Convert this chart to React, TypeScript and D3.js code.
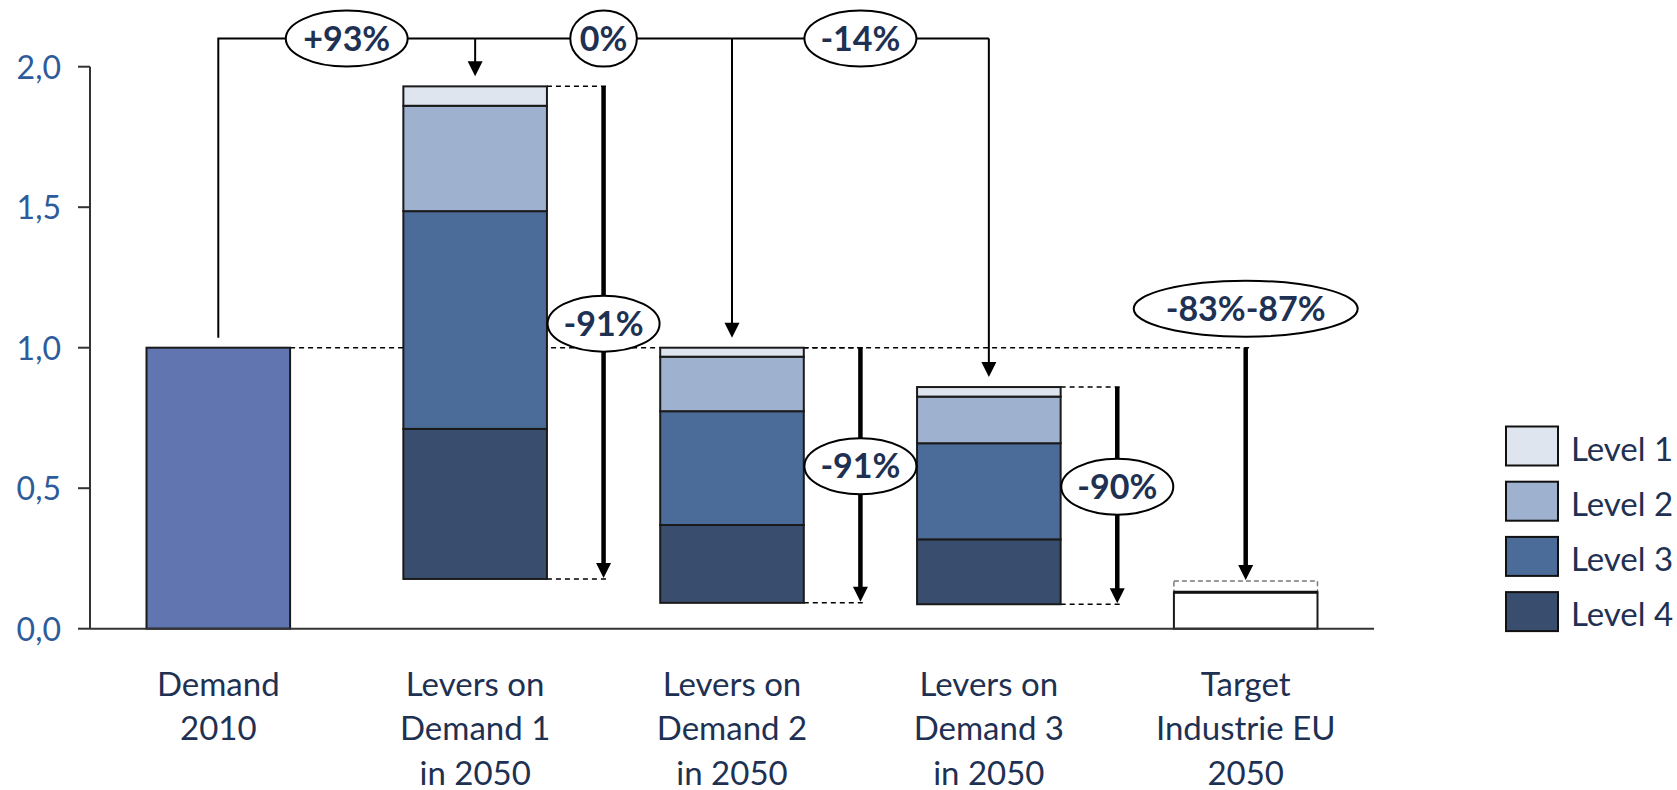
import React, { useEffect, useRef } from "react";
import * as d3 from "d3";

// Categories along the x axis (each label split over lines)
const categories = ["demand2010", "levers1", "levers2", "levers3", "target"];
const categoryLines: string[][] = [
  ["Demand", "2010"],
  ["Levers on", "Demand 1", "in 2050"],
  ["Levers on", "Demand 2", "in 2050"],
  ["Levers on", "Demand 3", "in 2050"],
  ["Target", "Industrie EU", "2050"],
];

// Demand index in 2010
const demand2010 = 1.0;

// Lever scenarios (categories 1..3): residual demand plus the four saving levels
const leverCategories = ["levers1", "levers2", "levers3"];
const residual = [0.177, 0.092, 0.087];
const level4 = [0.534, 0.277, 0.231];
const level3 = [0.775, 0.405, 0.342];
const level2 = [0.375, 0.194, 0.166];
const level1 = [0.069, 0.032, 0.034];

const levelNames = ["Level 1", "Level 2", "Level 3", "Level 4"];

// EU industry target: reduction range versus 2010
const targetReduction = [0.83, 0.87];

const yTicks = [0, 0.5, 1.0, 1.5, 2.0];

const W = 1677;
const H = 790;

const levelColors: Record<string, string> = {
  "Level 1": "#DEE5EF",
  "Level 2": "#9EB1CE",
  "Level 3": "#4B6B99",
  "Level 4": "#394D6E",
};
const demandColor = "#6176B1";
const navy = "#1E3152";
const tickBlue = "#2E5B9A";
const FONT = "Lato, 'Open Sans', sans-serif";

function pct(r: number): string {
  const v = Math.round(r * 100);
  if (v === 0) return "0%";
  return (v > 0 ? "+" : "-") + Math.abs(v) + "%";
}

export default function App() {
  const ref = useRef<SVGSVGElement | null>(null);

  useEffect(() => {
    const svg = d3.select(ref.current);
    svg.selectAll("*").remove();

    const y = d3.scaleLinear().domain([0, 2]).range([628.7, 66.7]);
    const x = d3
      .scaleBand<string>()
      .domain(categories)
      .range([90, 1374])
      .paddingInner(0.441)
      .paddingOuter(0.22);
    const bw = x.bandwidth();
    const gap = x.step() - bw;
    const cx = (c: string) => (x(c) as number) + bw / 2;
    const right = (c: string) => (x(c) as number) + bw;
    const gapMid = (c: string) => right(c) + gap / 2;

    // stacked table for the lever bars
    const keys = ["residual", "Level 4", "Level 3", "Level 2", "Level 1"];
    const rows = leverCategories.map((c, i) => ({
      cat: c,
      residual: residual[i],
      "Level 4": level4[i],
      "Level 3": level3[i],
      "Level 2": level2[i],
      "Level 1": level1[i],
    }));
    const stacked = d3.stack<any>().keys(keys)(rows);
    const tops = rows.map((r) => keys.reduce((s, k) => s + (r as any)[k], 0));

    const target = targetReduction.map((r) => demand2010 * (1 - r));
    const targetHi = d3.max(target) as number;
    const targetLo = d3.min(target) as number;

    const g = svg.append("g");

    // ---- dashed guide lines
    const dashed = g
      .append("g")
      .attr("stroke", "#000")
      .attr("stroke-width", 1.5)
      .attr("stroke-dasharray", "5,4");
    dashed
      .append("line")
      .attr("x1", right("demand2010"))
      .attr("x2", cx("target") + 7)
      .attr("y1", y(demand2010))
      .attr("y2", y(demand2010));
    leverCategories.forEach((c, i) => {
      const ax = gapMid(c);
      [tops[i], residual[i]].forEach((v) => {
        dashed
          .append("line")
          .attr("x1", right(c))
          .attr("x2", ax + 4)
          .attr("y1", y(v))
          .attr("y2", y(v));
      });
    });

    // ---- bars
    g.append("rect")
      .attr("x", x("demand2010") as number)
      .attr("width", bw)
      .attr("y", y(demand2010))
      .attr("height", y(0) - y(demand2010))
      .attr("fill", demandColor)
      .attr("stroke", "#1a1a1a")
      .attr("stroke-width", 2);

    stacked
      .filter((s) => s.key !== "residual")
      .forEach((series) => {
        g.append("g")
          .selectAll("rect")
          .data(series)
          .join("rect")
          .attr("x", (d: any) => x(d.data.cat) as number)
          .attr("width", bw)
          .attr("y", (d: any) => y(d[1]))
          .attr("height", (d: any) => y(d[0]) - y(d[1]))
          .attr("fill", levelColors[series.key])
          .attr("stroke", "#1a1a1a")
          .attr("stroke-width", 2);
      });

    // target bar: solid lower bound, dashed upper bound
    g.append("rect")
      .attr("x", x("target") as number)
      .attr("width", bw)
      .attr("y", y(targetHi))
      .attr("height", y(targetLo) - y(targetHi))
      .attr("fill", "none")
      .attr("stroke", "#7a7a7a")
      .attr("stroke-width", 1.5)
      .attr("stroke-dasharray", "5,3");
    g.append("rect")
      .attr("x", x("target") as number)
      .attr("width", bw)
      .attr("y", y(targetLo))
      .attr("height", y(0) - y(targetLo))
      .attr("fill", "#fff")
      .attr("stroke", "#1a1a1a")
      .attr("stroke-width", 2);
    g.append("line")
      .attr("x1", x("target") as number)
      .attr("x2", right("target"))
      .attr("y1", y(targetLo))
      .attr("y2", y(targetLo))
      .attr("stroke", "#111")
      .attr("stroke-width", 3);

    // ---- arrow helper
    const head = 15;
    const arrow = (ax: number, y1: number, y2: number, sw: number) => {
      g.append("line")
        .attr("x1", ax)
        .attr("x2", ax)
        .attr("y1", y1)
        .attr("y2", y2 - head + 1)
        .attr("stroke", "#000")
        .attr("stroke-width", sw);
      g.append("path")
        .attr("d", `M${ax - head / 2},${y2 - head} L${ax + head / 2},${y2 - head} L${ax},${y2} Z`)
        .attr("fill", "#000");
    };

    // ---- top bracket (thin)
    const bracketY = y(2.1);
    const gapAbove = 10;
    g.append("path")
      .attr(
        "d",
        `M${cx("demand2010")},${y(demand2010) - gapAbove} V${bracketY} H${cx("levers3")} `
      )
      .attr("fill", "none")
      .attr("stroke", "#000")
      .attr("stroke-width", 2);
    leverCategories.forEach((c, i) => {
      arrow(cx(c), bracketY, y(tops[i]) - gapAbove, 2);
    });

    // ---- reduction arrows (thick)
    const labels: { x: number; y: number; text: string }[] = [];
    leverCategories.forEach((c, i) => {
      const ax = gapMid(c);
      const y1 = y(tops[i]);
      const y2 = y(residual[i]) - 1;
      arrow(ax, y1, y2, 4.5);
      labels.push({ x: ax, y: (y1 + y2) / 2 - 8.5, text: pct(residual[i] / tops[i] - 1) });
    });
    const tx = cx("target");
    arrow(tx, y(demand2010), y(targetHi) - 1, 4.5);
    labels.push({
      x: tx,
      y: y(demand2010) - 11 - 28,
      text: `-${Math.round(targetReduction[0] * 100)}%-${Math.round(targetReduction[1] * 100)}%`,
    });

    // bracket labels: change of each scenario top versus 2010
    const bracketCats = ["demand2010", "levers1", "levers2"];
    bracketCats.forEach((c, i) => {
      labels.push({ x: gapMid(c), y: bracketY, text: pct(tops[i] / demand2010 - 1) });
    });

    // ---- ellipse labels
    labels.forEach((l) => {
      const lg = g.append("g");
      const el = lg.append("ellipse");
      const t = lg
        .append("text")
        .attr("x", l.x)
        .attr("y", l.y + 12)
        .attr("text-anchor", "middle")
        .attr("font-family", FONT)
        .attr("font-weight", 700)
        .attr("font-size", 34)
        .attr("fill", navy)
        .text(l.text);
      const len = (t.node() as SVGTextElement).getComputedTextLength();
      el.attr("cx", l.x)
        .attr("cy", l.y)
        .attr("rx", len * 0.7)
        .attr("ry", 28)
        .attr("fill", "#fff")
        .attr("stroke", "#000")
        .attr("stroke-width", 2);
    });

    // ---- axes
    const axis = g.append("g").attr("stroke", "#333").attr("stroke-width", 2);
    axis.append("line").attr("x1", 90).attr("x2", 90).attr("y1", y(2)).attr("y2", y(0));
    axis.append("line").attr("x1", 90).attr("x2", 1374).attr("y1", y(0)).attr("y2", y(0));
    yTicks.forEach((t) => {
      axis.append("line").attr("x1", 78).attr("x2", 90).attr("y1", y(t)).attr("y2", y(t));
    });
    g.append("g")
      .selectAll("text")
      .data(yTicks)
      .join("text")
      .attr("x", 61)
      .attr("y", (d) => y(d) + 12)
      .attr("text-anchor", "end")
      .attr("font-family", FONT)
      .attr("font-size", 32)
      .attr("fill", tickBlue)
      .text((d) => d.toFixed(1).replace(".", ","));

    // category labels
    categories.forEach((c, i) => {
      const t = g
        .append("text")
        .attr("text-anchor", "middle")
        .attr("font-family", FONT)
        .attr("font-size", 33)
        .attr("fill", navy);
      categoryLines[i].forEach((line, k) => {
        t.append("tspan")
          .attr("x", cx(c))
          .attr("y", y(0) + 67 + k * 44.5)
          .text(line);
      });
    });

    // ---- legend
    const lg = g.append("g");
    levelNames.forEach((n, i) => {
      const by = 426.5 + i * 55.2;
      lg.append("rect")
        .attr("x", 1506)
        .attr("y", by)
        .attr("width", 52)
        .attr("height", 39)
        .attr("fill", levelColors[n])
        .attr("stroke", "#111")
        .attr("stroke-width", 2);
      lg.append("text")
        .attr("x", 1571)
        .attr("y", by + 19.5 + 14.5)
        .attr("font-family", FONT)
        .attr("font-size", 33)
        .attr("fill", navy)
        .text(n);
    });
  }, []);

  return (
    <svg
      ref={ref}
      width={W}
      height={H}
      viewBox={`0 0 ${W} ${H}`}
      style={{ position: "absolute", left: 0, top: 0, background: "#fff" }}
    />
  );
}
